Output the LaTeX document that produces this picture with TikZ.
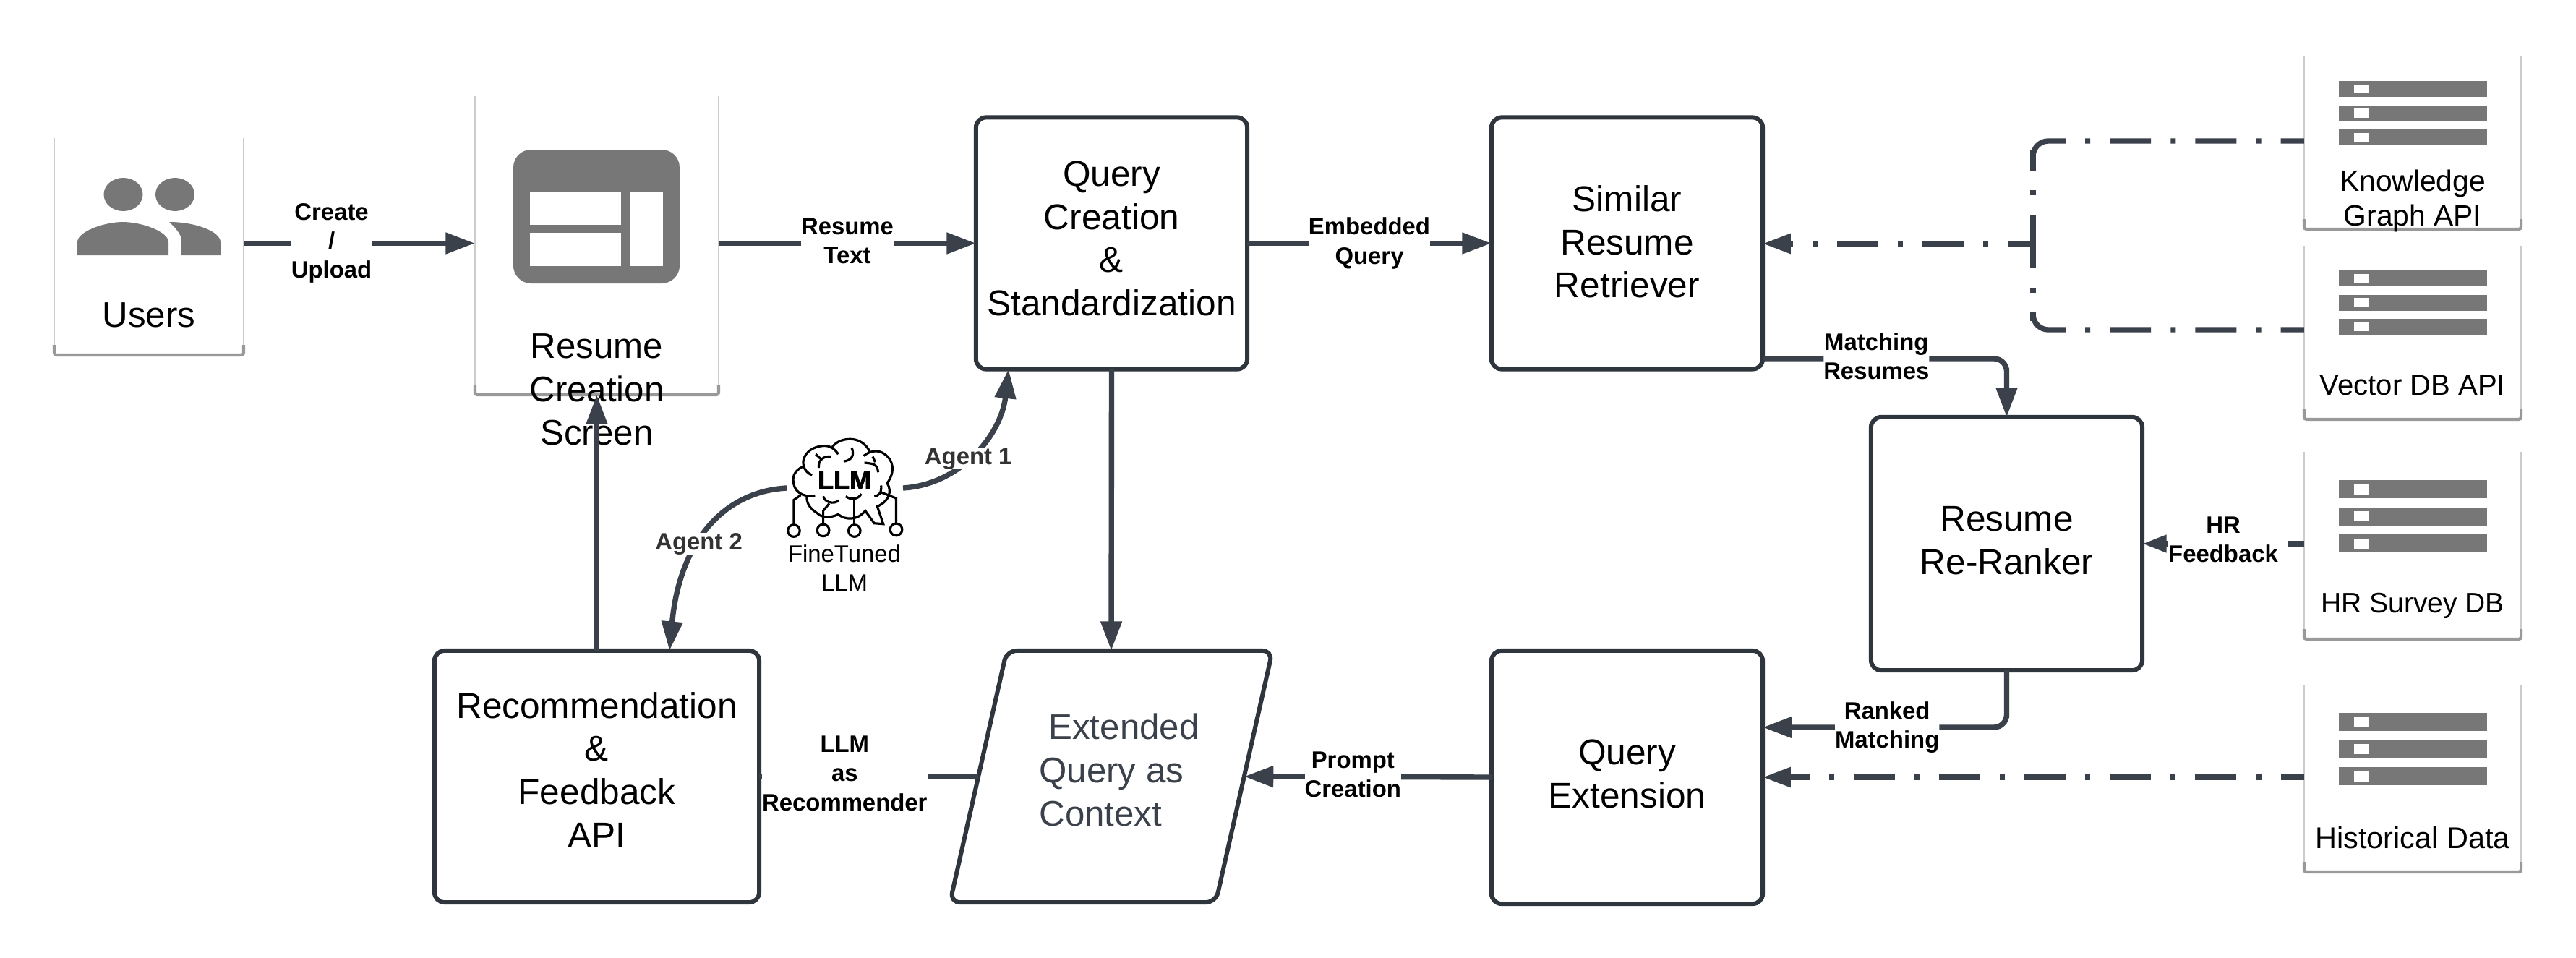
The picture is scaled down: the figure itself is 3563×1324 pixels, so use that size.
\documentclass[tikz,border=0pt]{standalone}
\usepackage{fontspec}
\setmainfont{Liberation Sans}
\newfontfamily\heavyfont[BoldFeatures={FakeBold=2}]{Liberation Sans}
\usetikzlibrary{arrows.meta, shapes.geometric}
\definecolor{inkline}{HTML}{3A414A}
\definecolor{boxline}{HTML}{2F353C}
\definecolor{icongray}{HTML}{777777}

\tikzset{
  box/.style={rectangle, draw=boxline, line width=1.7pt, rounded corners=4pt, outer sep=0pt, align=center, font=\fontsize{14.1}{17}\selectfont},
  card/.style={rectangle, inner sep=0pt, outer sep=0pt},
  cardtext/.style={align=center, inner sep=0pt, font=\fontsize{14}{17}\selectfont},
  apitext/.style={align=center, inner sep=0pt, font=\fontsize{11.6}{13.6}\selectfont},
  edgelabel/.style={fill=white, inner sep=0pt, align=center, font=\fontsize{9.35}{11.4}\selectfont\bfseries},
  agentlabel/.style={edgelabel, text=black!80},
  flow/.style={draw=inkline, line width=2.1pt, -{Triangle[length=11.5pt,width=8pt]}},
  plainflow/.style={draw=inkline, line width=2.1pt},
  dashflow/.style={draw=inkline, line width=2.1pt, dash pattern=on 16.2pt off 7.7pt on 2pt off 7.7pt, dash phase=7pt},
  brain/.style={draw=black, line width=0.9pt},
}

% open card: no line along its top
\newcommand{\cardedge}[1]{
  \draw[black!20, line width=0.5pt] (#1.north west) -- (#1.south west);
  \draw[black!20, line width=0.5pt] (#1.north east) -- (#1.south east);
  \draw[black!40, line width=1.2pt, rounded corners=1pt] ([yshift=4pt]#1.south west) -- (#1.south west) -- (#1.south east) -- ([yshift=4pt]#1.south east);
}
% three bars of a server, x fixed: #1 first top, #2 bar height, #3 pitch
\newcommand{\serverbars}[3]{
  \foreach \i in {0,1,2} {
    \fill[icongray] (3235,#1+\i*#3) rectangle (3440,#1+\i*#3+#2);
    \fill[white] (3256,#1+\i*#3+0.22*#2) rectangle (3276,#1+\i*#3+0.78*#2);
  }
}

\begin{document}
\begin{tikzpicture}[x=0.01cm, y=-0.01cm]
  \useasboundingbox (0,0) rectangle (3563,1324);

  % cards on the left
  \node (users) at (206,341) [card, minimum width=2.62cm, minimum height=3cm] {};
  \node (screen) at (825.5,339.5) [card, minimum width=3.37cm, minimum height=4.13cm] {};
  \cardedge{users}
  \cardedge{screen}
  \node (userstext) at (206,436) [cardtext] {Users};
  \node (screentext) at (825.5,539) [cardtext] {Resume\\Creation\\Screen};

  \fill[icongray] (170.5,269) ellipse (27 and 23);
  \fill[icongray] (242,269) ellipse (27 and 23);
  \fill[icongray] (107,353) -- (107,335) .. controls (107,320) and (145,307) .. (170,307) .. controls (195,307) and (233,320) .. (233,335) -- (233,353) -- cycle;
  \fill[icongray] (251,353) -- (251,332) .. controls (251,325) and (243,315) .. (234,307) .. controls (270,307) and (305,320) .. (305,335) -- (305,353) -- cycle;

  \fill[icongray, rounded corners=7pt] (710,207) rectangle (940,392);
  \fill[white] (733,265) rectangle (859,311);
  \fill[white] (733,322) rectangle (859,368);
  \fill[white] (871,265) rectangle (917,368);

  % cards on the right
  \node (graphapi) at (3337,197) [card, minimum width=3cm, minimum height=2.4cm] {};
  \node (vectorapi) at (3337,460) [card, minimum width=3cm, minimum height=2.4cm] {};
  \node (surveydb) at (3337,754.5) [card, minimum width=3cm, minimum height=2.59cm] {};
  \node (history) at (3337,1076.5) [card, minimum width=3cm, minimum height=2.59cm] {};
  \cardedge{graphapi}
  \cardedge{vectorapi}
  \cardedge{surveydb}
  \cardedge{history}
  \serverbars{112}{22}{33.5}
  \serverbars{374}{22}{33.5}
  \serverbars{664}{25}{37.5}
  \serverbars{986}{25}{37.5}
  \node (graphtext) at (3337,278) [apitext] {Knowledge\\Graph API};
  \node (vectortext) at (3337,533) [apitext, font=\fontsize{11.4}{13.6}\selectfont] {Vector DB API};
  \node (surveytext) at (3337,838) [apitext, font=\fontsize{11.1}{13.6}\selectfont] {HR Survey DB};
  \node (historytext) at (3337,1159) [apitext, font=\fontsize{11.8}{13.6}\selectfont] {Historical Data};

  % boxes
  \node (query) at (1537.5,336.5) [box, text depth=3.9pt, minimum width=3.75cm, minimum height=3.48cm] {Query\\Creation\\\&\\Standardization};
  \node (similar) at (2250.5,336.5) [box, text depth=1.3pt, minimum width=3.75cm, minimum height=3.48cm] {Similar\\Resume\\Retriever};
  \node (reranker) at (2775.5,752) [box, text depth=2.6pt, minimum width=3.75cm, minimum height=3.5cm] {Resume\\Re-Ranker};
  \node (extension) at (2250.5,1075) [box, text depth=2.6pt, minimum width=3.75cm, minimum height=3.5cm] {Query\\Extension};
  \node (recommend) at (825.5,1074) [box, text depth=5.2pt, minimum width=4.49cm, minimum height=3.48cm] {Recommendation\\\&\\Feedback\\API};
  \node (context) at (1537,1074) [box, trapezium, trapezium left angle=75.6, trapezium right angle=104.4, trapezium stretches=true, inner sep=0pt, minimum width=4.46cm, minimum height=3.48cm] {\phantom{x}};
  \node (contexttext) at (1548,1065) [align=left, inner sep=0pt, text=inkline, font=\fontsize{14}{17}\selectfont] {\hspace*{3.7pt}Extended\\Query as\\Context};

  % fine tuned model
  \node (llm) at (1168,664) [inner sep=0pt, font=\fontsize{10.2}{12}\selectfont\heavyfont\bfseries] {LLM};
  \node (llmtext) at (1168,785.5) [align=center, inner sep=0pt, font=\fontsize{9.35}{11.6}\selectfont] {FineTuned\\LLM};
  \begin{scope}[shift={(850,560)}, x=0.004146cm, y=-0.003333cm]
    \draw[brain] (668,378) .. controls (625,385) and (595,360) .. (595,310) .. controls (595,285) and (610,265) .. (630,255)
      .. controls (620,205) and (660,170) .. (700,170) .. controls (720,170) and (735,185) .. (745,205);
    \draw[brain] (725,175) .. controls (740,150) and (765,142) .. (785,142) .. controls (815,142) and (840,165) .. (850,195);
    \draw[brain] (830,212) .. controls (850,190) and (880,185) .. (900,205) .. controls (930,230) and (935,280) .. (908,325)
      .. controls (925,360) and (915,400) .. (875,422) -- (895,495) -- (865,492) -- (835,440)
      .. controls (810,480) and (770,480) .. (745,455) .. controls (720,470) and (690,470) .. (675,450) .. controls (650,430) and (640,410) .. (640,380);
    \draw[brain] (720,215) .. controls (695,212) and (678,230) .. (680,262);
    \draw[brain] (670,205) -- (690,228);
    \draw[brain] (790,178) .. controls (800,210) and (790,230) .. (763,235);
    \draw[brain] (832,240) .. controls (855,245) and (875,240) .. (878,280);
    \draw[brain] (860,215) -- (868,238);
    \draw[brain] (630,255) .. controls (635,275) and (645,285) .. (658,292);
    \draw[brain] (695,380) .. controls (700,405) and (730,415) .. (747,397);
    \draw[brain] (770,380) .. controls (785,395) and (810,395) .. (822,370);
    \draw[brain] (865,378) .. controls (880,380) and (890,365) .. (888,335);
    \draw[brain] (597,523) ellipse (20 and 25);
    \draw[brain] (695,521) ellipse (20 and 25);
    \draw[brain] (799,523) ellipse (20 and 25);
    \draw[brain] (938,518) ellipse (20 and 25);
    \draw[brain] (597,498) -- (597,395) -- (620,375);
    \draw[brain] (695,496) -- (695,440) -- (715,410);
    \draw[brain] (799,498) -- (799,395);
    \draw[brain] (938,493) -- (938,388) -- (885,362);
  \end{scope}
  \coordinate (llmright) at (1249,675);
  \coordinate (llmleft) at (1088,675);

  % connectors
  \draw[flow] (users.east |- query.west) -- node[edgelabel, pos=0.38] {Create\\/\\Upload} (screen.west |- query.west);
  \draw[flow] (screen.east |- query.west) -- node[edgelabel, yshift=1pt] {Resume\\Text} (query.west);
  \draw[flow] (query.east) -- node[edgelabel] {Embedded\\Query} (similar.west);
  \draw[flow] (query.south) -- (context.north);
  \draw[flow] (recommend.north) -- (screen.south);

  \draw[flow, rounded corners=5pt] (similar.east |- 0,496) -- node[edgelabel, pos=0.466, yshift=1pt] {Matching\\Resumes} (reranker.north |- 0,496) -- (reranker.north);
  \draw[flow, rounded corners=5pt] (reranker.south) -- (reranker.south |- 0,1006) -- node[edgelabel, pos=0.49] {Ranked\\Matching} (extension.east |- 0,1006);
  \node (hrlabel) at (3075,746) [edgelabel] {HR\\Feedback};
  \draw[plainflow] (surveydb.west |- reranker.east) -- ([xshift=13pt/3.5]hrlabel.east |- reranker.east);
  \draw[flow, -{Triangle[length=9.5pt,width=6.5pt]}] (hrlabel.west |- reranker.east) -- (reranker.east);
  \draw[flow] (extension.west) -- node[edgelabel, pos=0.56, yshift=1pt] {Prompt\\Creation} (context.east);
  \draw[plainflow] (context.west) -- node[edgelabel, pos=0.61, yshift=1.2pt] {LLM\\as\\Recommender} (recommend.east |- context.west);

  \coordinate (junction) at (2812,337);
  \draw[dashflow, rounded corners=6pt] (graphapi.west |- 0,195) -- (junction |- 0,195) -- (junction |- 0,207);
  \draw[dashflow, dash phase=4.8pt] (junction) -- (junction |- 0,207);
  \draw[dashflow, rounded corners=6pt] (vectorapi.west |- 0,456) -- (junction |- 0,456) -- (junction |- 0,444);
  \draw[dashflow, dash phase=6.5pt] (junction) -- (junction |- 0,444);
  \draw[dashflow, dash phase=6.3pt, -{Triangle[length=11pt,width=7.5pt]}] (junction) -- (similar.east |- junction);
  \draw[dashflow, -{Triangle[length=11pt,width=7.5pt]}] (history.west |- extension.east) -- (extension.east);

  \draw[flow] (llmright) .. controls (1330,670) and (1385,600) .. (query.south -| 1395,0) node[agentlabel, pos=0.44] {Agent 1};
  \draw[flow] (llmleft) .. controls (1000,680) and (940,750) .. (recommend.north -| 926,0) node[agentlabel, pos=0.58] {Agent 2};
\end{tikzpicture}
\end{document}
